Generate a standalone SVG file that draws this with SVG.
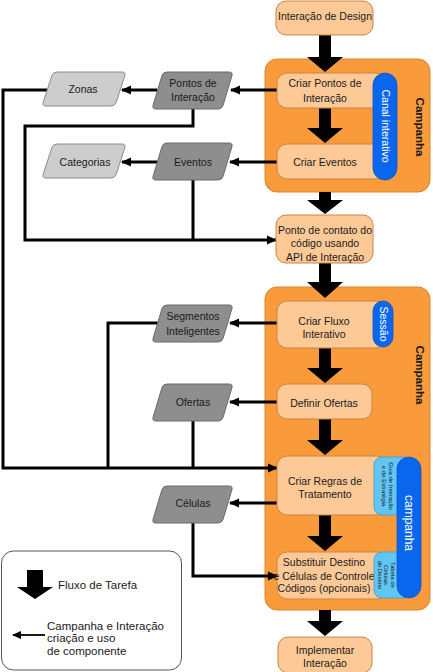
<svg xmlns="http://www.w3.org/2000/svg" width="433" height="672" viewBox="0 0 433 672">
<style>
text{font-family:"Liberation Sans",Arial,sans-serif;font-size:10.5px;fill:#1a1a1a;text-anchor:middle}
.camp{fill:#FA9B3B;stroke:#D9842C;stroke-width:1}
.box{fill:#FDCA97;stroke:#C98545;stroke-width:1}
.pill{fill:#0B66EE;stroke:#0A55C8;stroke-width:0.8}
.tab{fill:#62C6F5;stroke:#3A9FD0;stroke-width:0.8}
.dark{fill:#8E8E8E;stroke:#6A6A6A;stroke-width:1}
.light{fill:#CDCDCD;stroke:#8A8A8A;stroke-width:1}
.flow{fill:#000}
.conn{fill:none;stroke:#000;stroke-width:3}
.wt{fill:#fff}
.lbl{font-weight:bold;font-size:11.5px;fill:#1a1a1a}
.tiny{font-size:6px;fill:#1a1a1a}
.leg{text-anchor:start;font-size:11.5px}
</style>
<defs>
<marker id="ah" markerUnits="userSpaceOnUse" markerWidth="10" markerHeight="10" viewBox="0 0 10 10" refX="9" refY="5" orient="auto">
<path d="M0,0.5 L10,5 L0,9.5 Z" fill="#000"/>
</marker>
<marker id="ahs" markerUnits="userSpaceOnUse" markerWidth="9" markerHeight="8" viewBox="0 0 9 8" refX="8" refY="4" orient="auto">
<path d="M0,0 L9,4 L0,8 Z" fill="#000"/>
</marker>
<path id="pd" d="M15 0 L77 0 Q81 0 79.9 3.8 L71.1 33.2 Q70 37 66 37 L4 37 Q0 37 1.1 33.2 L9.9 3.8 Q11 0 15 0 Z"/>
<path id="pl" d="M15 0 L80 0 Q84 0 82.8 3.8 L74.2 30.2 Q73 34 69 34 L4 34 Q0 34 1.2 30.2 L9.8 3.8 Q11 0 15 0 Z"/>
<path id="bigarrow" d="M-6 0 L6 0 L6 -15 L18 -15 L0 0 Z"/>
</defs>

<!-- Campaign regions -->
<g id="campanha1">
<rect class="camp" x="265" y="59" width="165" height="133" rx="12"/>
<text class="lbl" transform="translate(416,127) rotate(90)">Campanha</text>
</g>
<g id="campanha2">
<rect class="camp" x="265" y="287" width="165" height="323" rx="12"/>
<text class="lbl" transform="translate(416,375) rotate(90)">Campanha</text>
</g>

<!-- Task flow arrows -->
<g id="taskflow" class="flow">
<path d="M319 35 L331 35 L331 57 L343 57 L325 72 L307 57 L319 57 Z"/>
<path d="M319 108 L331 108 L331 128 L343 128 L325 143 L307 128 L319 128 Z"/>
<path d="M319 192 L331 192 L331 200 L343 200 L325 214 L307 200 L319 200 Z"/>
<path d="M319 263 L331 263 L331 282 L343 282 L325 298 L307 282 L319 282 Z"/>
<path d="M319 348 L331 348 L331 368 L343 368 L325 383 L307 368 L319 368 Z"/>
<path d="M319 419 L331 419 L331 440 L343 440 L325 455 L307 440 L319 440 Z"/>
<path d="M319 515 L331 515 L331 536 L343 536 L325 551 L307 536 L319 536 Z"/>
<path d="M319 610 L331 610 L331 621 L343 621 L325 636 L307 621 L319 621 Z"/>
</g>

<!-- Connectors -->
<g id="connectors" class="conn">
<path d="M277 90 L231 90" marker-end="url(#ah)"/>
<path d="M157 90 L122 90" marker-end="url(#ah)"/>
<path d="M47 90 L3 90 L3 468 L277 468" marker-end="url(#ah)"/>
<path d="M193 109 L193 126 L25 126 L25 240 L276 240" marker-end="url(#ah)"/>
<path d="M193 180 L193 240"/>
<path d="M277 162 L230 162" marker-end="url(#ah)"/>
<path d="M157 162 L122 162" marker-end="url(#ah)"/>
<path d="M277 323 L230 323" marker-end="url(#ah)"/>
<path d="M158 323 L108 323 L108 468"/>
<path d="M277 402 L230 402" marker-end="url(#ah)"/>
<path d="M193 421 L193 468"/>
<path d="M277 503 L230 503" marker-end="url(#ah)"/>
<path d="M193 523 L193 576 L277 576" marker-end="url(#ah)"/>
</g>

<!-- Task boxes -->
<g id="interacao-design">
<rect class="box" x="276" y="1" width="97" height="34" rx="10"/>
<text x="325" y="20">Interação de Design</text>
</g>
<g id="criar-pontos">
<rect class="box" x="277" y="73" width="108" height="35" rx="10"/>
<text x="325" y="87">Criar Pontos de</text>
<text x="325" y="102">Interação</text>
</g>
<g id="criar-eventos">
<rect class="box" x="277" y="144" width="108" height="35" rx="10"/>
<text x="325" y="166">Criar Eventos</text>
</g>
<g id="canal-interativo">
<rect class="pill" x="373" y="73" width="24" height="107" rx="12"/>
<text class="wt" transform="translate(381.5,126) rotate(90)">Canal interativo</text>
</g>
<g id="ponto-contato">
<rect class="box" x="276" y="215" width="97" height="48" rx="10"/>
<text x="325" y="234">Ponto de contato do</text>
<text x="325" y="247">código usando</text>
<text x="325" y="261">API de Interação</text>
</g>
<g id="criar-fluxo">
<rect class="box" x="277" y="301" width="108" height="47" rx="10"/>
<text x="324" y="325">Criar Fluxo</text>
<text x="324" y="338">Interativo</text>
</g>
<g id="sessao">
<rect class="pill" x="373" y="301" width="20" height="46" rx="10"/>
<text class="wt" transform="translate(379.5,324) rotate(90)">Sessão</text>
</g>
<g id="definir-ofertas">
<rect class="box" x="277" y="384" width="95" height="35" rx="10"/>
<text x="324" y="407">Definir Ofertas</text>
</g>
<g id="criar-regras">
<rect class="box" x="277" y="456" width="110" height="59" rx="10"/>
<text x="325" y="485">Criar Regras de</text>
<text x="325" y="498">Tratamento</text>
</g>
<g id="substituir">
<rect class="box" x="277" y="552" width="110" height="47" rx="10"/>
<text x="324" y="566">Substituir Destino</text>
<text x="324" y="580">e Células de Controle</text>
<text x="324" y="592">Códigos (opcionais)</text>
</g>
<g id="guia">
<rect class="tab" x="374" y="457" width="36" height="58" rx="8"/>
<text class="tiny" transform="translate(388.5,486) rotate(90)">Guia de Interação</text>
<text class="tiny" transform="translate(381.5,486) rotate(90)">e de Estratégia</text>
</g>
<g id="tabela">
<rect class="tab" x="374" y="552" width="36" height="46" rx="8"/>
<text class="tiny" transform="translate(390.5,575) rotate(90)">Tabela de</text>
<text class="tiny" transform="translate(384,575) rotate(90)">Células</text>
<text class="tiny" transform="translate(377.5,575) rotate(90)">de Destino</text>
</g>
<g id="campanha-pill">
<rect class="pill" x="397" y="457" width="24" height="141" rx="12"/>
<text class="wt" style="font-size:12px" transform="translate(405,523) rotate(90)">campanha</text>
</g>
<g id="implementar">
<rect class="box" x="278" y="637" width="94" height="36" rx="10"/>
<text x="325" y="654">Implementar</text>
<text x="325" y="667">Interação</text>
</g>

<!-- Components -->
<g id="pontos-interacao">
<use href="#pd" class="dark" transform="translate(152,72)"/>
<text x="193" y="87">Pontos de</text>
<text x="193" y="101">Interação</text>
</g>
<g id="zonas">
<use href="#pl" class="light" transform="translate(42,72)"/>
<text x="83" y="93">Zonas</text>
</g>
<g id="eventos">
<use href="#pd" class="dark" transform="translate(152,143)"/>
<text x="193" y="166">Eventos</text>
</g>
<g id="categorias">
<use href="#pl" class="light" transform="translate(42,144)"/>
<text x="85" y="166">Categorias</text>
</g>
<g id="segmentos">
<use href="#pd" class="dark" transform="translate(152,305)"/>
<text x="193" y="320">Segmentos</text>
<text x="193" y="335">Inteligentes</text>
</g>
<g id="ofertas">
<use href="#pd" class="dark" transform="translate(152,384)"/>
<text x="193" y="406">Ofertas</text>
</g>
<g id="celulas">
<use href="#pd" class="dark" transform="translate(152,486)"/>
<text x="193" y="507">Células</text>
</g>

<!-- Legend -->
<g id="legenda">
<rect x="1.5" y="551" width="180" height="119" rx="12" fill="#fff" stroke="#555" stroke-width="1"/>
<path d="M27 570 L43 570 L43 587 L53 587 L35 599 L17 587 L27 587 Z" fill="#000"/>
<text class="leg" x="58" y="589">Fluxo de Tarefa</text>
<path d="M45 635 L13 635" stroke="#000" stroke-width="1.8" fill="none" marker-end="url(#ahs)"/>
<text class="leg" x="47" y="630">Campanha e Interação</text>
<text class="leg" x="47" y="642">criação e uso</text>
<text class="leg" x="47" y="655">de componente</text>
</g>
</svg>
